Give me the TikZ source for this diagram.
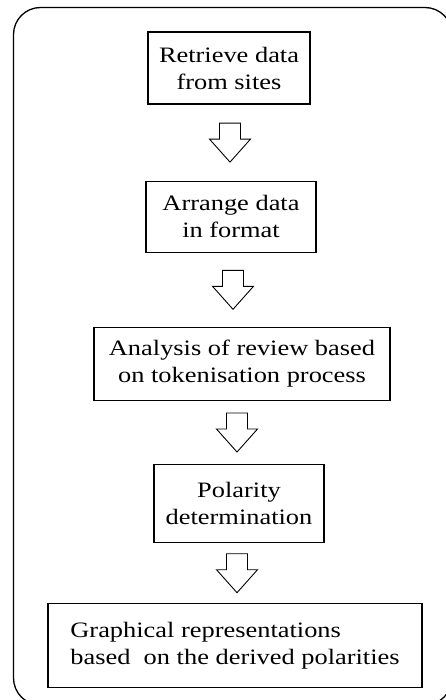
\documentclass[tikz,border=0pt]{standalone}
\usepackage{fontspec}
\setmainfont{Liberation Serif}[FakeStretch=1.2]
\usetikzlibrary{positioning,calc}

\begin{document}
\begin{tikzpicture}[x=1bp, y=-1bp,
  box/.style={draw, line width=1.2bp, inner sep=0pt, align=center, font=\fontsize{22bp}{27bp}\selectfont},
  blockarrow/.pic={\draw[line width=0.9bp] (-10.5,-19.5) -- (10.5,-19.5) -- (10.5,-3.5) -- (20.5,-3.5) -- (0,19.5) -- (-20.5,-3.5) -- (-10.5,-3.5) -- cycle;},
  node distance=76bp]
  \useasboundingbox (0,0) rectangle (446,700);
  \clip (0,0) rectangle (446,700);
  \draw[line width=1.3bp, rounded corners=27bp] (13.5,7.5) rectangle (452,705);
  \node[box, minimum width=162bp, minimum height=72bp] (retrieve) at (229,68) {Retrieve data\\from sites};
  \node[box, minimum width=170bp, minimum height=71bp, below=76bp of retrieve, xshift=2bp] (arrange) {Arrange data\\in format};
  \node[box, minimum width=296bp, minimum height=73bp, below=74bp of arrange, xshift=11bp] (analysis) {Analysis of review based\\ on tokenisation process};
  \node[box, minimum width=170bp, minimum height=78bp, below=63bp of analysis, xshift=-3bp] (polarity) {Polarity\\determination};
  \node[box, minimum width=374bp, minimum height=84bp, below=60bp of polarity, xshift=-4bp, align=left] (graphs) {Graphical representations\\based~ on the derived polarities};
  \pic at ($(retrieve.south)!0.5!(arrange.north)$) {blockarrow};
  \pic[xshift=-3.5bp] at ($(arrange.south)!0.5!(analysis.north)$) {blockarrow};
  \pic[xshift=-3.5bp] at ($(analysis.south)!0.5!(polarity.north)$) {blockarrow};
  \pic at ($(polarity.south)!0.5!(graphs.north)$) {blockarrow};
\end{tikzpicture}
\end{document}
